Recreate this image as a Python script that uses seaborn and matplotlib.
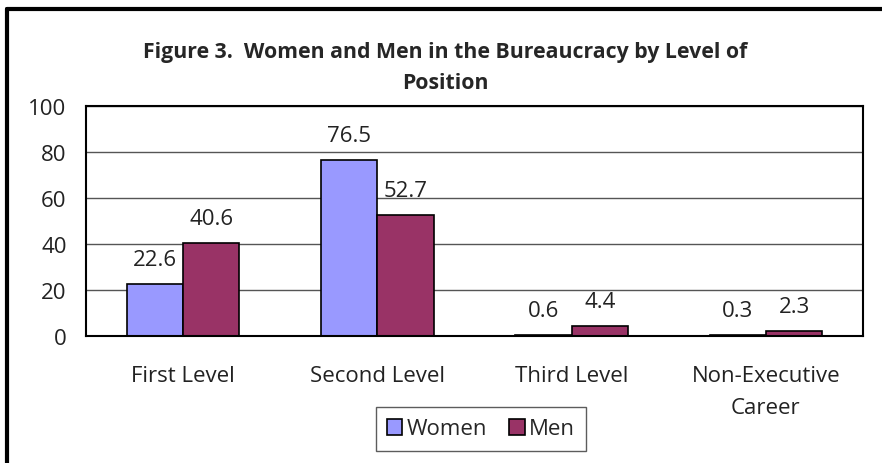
import pandas as pd
import matplotlib.pyplot as plt
import seaborn as sns
from matplotlib.patches import Rectangle

categories = ["First Level", "Second Level", "Third Level", "Non-Executive\nCareer"]
women = [22.6, 76.5, 0.6, 0.3]
men = [40.6, 52.7, 4.4, 2.3]
series = ["Women", "Men"]
colors = {"Women": "#9999FF", "Men": "#993366"}

df = pd.DataFrame({
    "level": categories * 2,
    "value": women + men,
    "sex": ["Women"] * 4 + ["Men"] * 4,
})

sns.set_style("white")
plt.rcParams['font.family'] = ['Open Sans', 'DejaVu Sans']

fig = plt.figure(figsize=(8.82, 4.64), dpi=100)
ax = fig.add_axes([86 / 882, 1 - 337 / 464, 777 / 882, 230 / 464])

sns.barplot(data=df, x="level", y="value", hue="sex", hue_order=series,
            palette=colors, width=0.58, edgecolor="black", linewidth=1.2,
            saturation=1, ax=ax, legend=False)

for cont in ax.containers:
    ax.bar_label(cont, fmt="%.1f", padding=10, fontsize=16, color="#222222")

ax.set_ylim(0, 100)
ax.set_yticks(range(0, 101, 20))
ax.yaxis.grid(True, color="#555555", linewidth=1)
ax.set_axisbelow(True)
ax.set_xlabel("")
ax.set_ylabel("")
ax.tick_params(axis="both", length=0, labelsize=16, colors="#222222")
ax.tick_params(axis="x", pad=21)
ax.tick_params(axis="y", pad=14)
for lbl in ax.get_xticklabels():
    lbl.set_linespacing(1.65)
for s in ax.spines.values():
    s.set_visible(True)
    s.set_color("black")
    s.set_linewidth(1.5)

fig.text(0.505, 1 - 68 / 464, "Figure 3.  Women and Men in the Bureaucracy by Level of\nPosition",
         ha="center", va="center", fontsize=15.3, fontweight="bold", linespacing=1.65)

handles = [Rectangle((0, 0), 1, 1, facecolor=colors[s], edgecolor="black", linewidth=1.2)
           for s in series]
fig.legend(handles, series, loc="center", bbox_to_anchor=(481 / 882, 1 - 430 / 464),
           ncol=2, frameon=True, fancybox=False, edgecolor="#333333", fontsize=16,
           handlelength=0.7, handleheight=0.7, handletextpad=0.2, columnspacing=1.0,
           borderpad=0.5)

fig.add_artist(plt.Line2D([7 / 882, 7 / 882], [0, 1 - 10 / 464], transform=fig.transFigure,
                          color="black", linewidth=3))
fig.add_artist(plt.Line2D([7 / 882, 1], [1 - 10 / 464, 1 - 10 / 464], transform=fig.transFigure,
                          color="black", linewidth=3))

fig.savefig("out.png", dpi=100)
